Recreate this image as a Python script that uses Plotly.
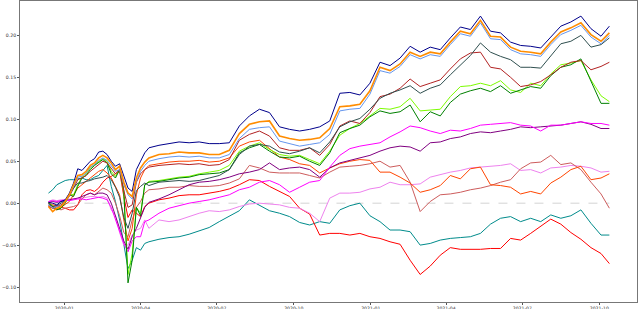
import plotly.graph_objects as go

dates = ["2019-12-13","2019-12-18","2019-12-23","2019-12-28","2020-01-02","2020-01-07","2020-01-12","2020-01-17",
         "2020-01-22","2020-01-27","2020-02-01","2020-02-06","2020-02-11","2020-02-16","2020-02-21","2020-02-26",
         "2020-03-02","2020-03-07","2020-03-12","2020-03-17","2020-03-22","2020-03-27","2020-04-01","2020-04-06",
         "2020-04-11","2020-04-23","2020-05-05","2020-05-17","2020-05-29","2020-06-10","2020-06-22","2020-07-04",
         "2020-07-16","2020-07-28","2020-08-09","2020-08-21","2020-09-02","2020-09-14","2020-09-26","2020-10-08",
         "2020-10-20","2020-11-01","2020-11-13","2020-11-25","2020-12-07","2020-12-19","2020-12-31","2021-01-12",
         "2021-01-24","2021-02-05","2021-02-17","2021-03-01","2021-03-13","2021-03-25","2021-04-06","2021-04-18",
         "2021-04-30","2021-05-12","2021-05-24","2021-06-05","2021-06-17","2021-06-29","2021-07-11","2021-07-23",
         "2021-08-04","2021-08-16","2021-08-28","2021-09-09","2021-09-21","2021-10-03","2021-10-13"]

navy = [0.001,0.000,-0.002,0.002,0.004,0.012,0.024,0.041,0.039,0.045,0.050,0.053,0.061,0.062,0.058,0.050,
        0.044,0.047,0.032,0.018,0.014,0.040,0.050,0.060,0.066,0.069,0.071,0.073,0.072,0.073,0.071,0.071,
        0.072,0.092,0.104,0.112,0.108,0.091,0.088,0.086,0.088,0.091,0.098,0.131,0.132,0.129,0.143,0.168,
        0.164,0.173,0.187,0.180,0.186,0.183,0.197,0.210,0.207,0.223,0.205,0.203,0.192,0.188,0.187,0.185,
        0.198,0.211,0.216,0.223,0.208,0.199,0.211]

orange = [-0.004,-0.010,-0.006,-0.004,0.002,0.010,0.022,0.033,0.034,0.038,0.045,0.048,0.054,0.057,0.054,0.048,
          0.040,0.044,0.025,0.012,0.008,0.030,0.042,0.049,0.054,0.058,0.059,0.061,0.060,0.060,0.058,0.058,
          0.063,0.083,0.094,0.097,0.098,0.080,0.077,0.075,0.076,0.078,0.089,0.115,0.116,0.118,0.134,0.162,
          0.158,0.166,0.180,0.175,0.180,0.178,0.192,0.205,0.202,0.218,0.199,0.198,0.186,0.181,0.180,0.178,
          0.192,0.204,0.209,0.215,0.201,0.193,0.203]

cornflower = [-0.002,-0.006,-0.004,-0.003,0.001,0.009,0.020,0.031,0.032,0.036,0.043,0.046,0.051,0.054,0.051,0.045,
              0.038,0.040,0.022,0.010,0.005,0.026,0.038,0.045,0.050,0.053,0.055,0.056,0.055,0.056,0.054,0.054,
              0.058,0.077,0.088,0.090,0.091,0.074,0.071,0.068,0.070,0.072,0.082,0.110,0.112,0.113,0.130,0.158,
              0.155,0.163,0.177,0.172,0.177,0.175,0.189,0.202,0.199,0.215,0.196,0.195,0.183,0.178,0.177,0.175,
              0.189,0.201,0.206,0.212,0.198,0.190,0.200]

slategray = [0.000,-0.004,-0.003,0.000,0.003,0.010,0.018,0.024,0.024,0.026,0.027,0.029,0.030,0.031,0.033,0.028,
             0.019,0.007,-0.017,-0.030,-0.012,0.015,0.020,0.024,0.021,0.025,0.026,0.027,0.026,0.027,0.030,0.033,
             0.040,0.058,0.068,0.070,0.068,0.061,0.059,0.062,0.066,0.060,0.073,0.091,0.097,0.101,0.112,0.125,
             0.131,0.135,0.140,0.131,0.137,0.141,0.153,0.165,0.176,0.191,0.180,0.175,0.171,0.162,0.162,0.161,
             0.175,0.190,0.193,0.200,0.186,0.189,0.197]

firebrick = [-0.003,-0.006,-0.004,-0.002,0.002,0.008,0.018,0.028,0.030,0.033,0.038,0.042,0.046,0.050,0.048,0.042,
             0.035,0.040,0.015,-0.005,-0.002,0.025,0.035,0.040,0.043,0.045,0.046,0.047,0.046,0.047,0.045,0.046,
             0.052,0.075,0.082,0.086,0.080,0.066,0.063,0.063,0.066,0.057,0.070,0.092,0.098,0.095,0.108,0.127,
             0.130,0.137,0.148,0.139,0.143,0.147,0.160,0.172,0.179,0.180,0.162,0.160,0.150,0.139,0.141,0.145,
             0.153,0.162,0.168,0.170,0.159,0.163,0.168]

lawngreen = [0.001,-0.003,-0.007,-0.005,0.001,0.011,0.010,0.022,0.031,0.035,0.042,0.046,0.049,0.053,0.050,0.038,
             0.032,0.040,0.012,-0.085,-0.060,-0.005,-0.012,0.022,0.026,0.027,0.029,0.031,0.032,0.035,0.037,0.039,
             0.045,0.062,0.068,0.072,0.064,0.058,0.056,0.057,0.052,0.047,0.062,0.081,0.089,0.095,0.104,0.113,
             0.112,0.115,0.125,0.110,0.111,0.112,0.127,0.139,0.140,0.143,0.140,0.146,0.135,0.132,0.143,0.140,
             0.154,0.165,0.167,0.170,0.147,0.128,0.121]

green = [0.000,-0.004,-0.008,-0.006,0.000,0.010,0.008,0.020,0.030,0.033,0.040,0.045,0.048,0.052,0.048,0.035,
         0.030,0.040,0.015,-0.095,-0.068,-0.005,-0.015,0.022,0.025,0.026,0.028,0.030,0.031,0.034,0.035,0.036,
         0.040,0.060,0.066,0.070,0.062,0.055,0.054,0.056,0.050,0.045,0.060,0.084,0.089,0.093,0.103,0.110,
         0.107,0.109,0.117,0.097,0.109,0.104,0.120,0.130,0.134,0.137,0.133,0.140,0.131,0.135,0.139,0.137,
         0.152,0.162,0.165,0.172,0.145,0.119,0.119]

magenta = [0.002,0.003,0.002,0.003,0.004,0.003,0.004,0.005,0.005,0.004,0.005,0.006,0.007,0.006,0.004,-0.005,
           -0.020,-0.035,-0.048,-0.058,-0.045,-0.040,-0.040,-0.022,-0.020,-0.012,-0.006,-0.003,0.000,0.002,0.004,0.007,
           0.010,0.016,0.019,0.025,0.027,0.022,0.013,0.019,0.025,0.027,0.043,0.057,0.065,0.068,0.070,0.072,
           0.079,0.085,0.092,0.090,0.086,0.083,0.087,0.086,0.089,0.093,0.094,0.095,0.096,0.093,0.092,0.086,
           0.093,0.093,0.095,0.097,0.095,0.095,0.093]

purple = [0.001,0.002,0.001,0.002,0.003,0.004,0.005,0.006,0.008,0.010,0.012,0.010,0.012,0.012,0.010,0.000,
          -0.015,-0.030,-0.045,-0.055,-0.040,-0.030,-0.018,-0.005,0.001,0.005,0.010,0.016,0.022,0.025,0.026,0.028,
          0.031,0.035,0.037,0.040,0.048,0.040,0.042,0.043,0.040,0.031,0.042,0.048,0.051,0.054,0.057,0.062,
          0.066,0.068,0.067,0.062,0.072,0.073,0.077,0.079,0.083,0.085,0.084,0.086,0.088,0.091,0.090,0.091,
          0.092,0.093,0.095,0.097,0.094,0.089,0.089]

violet = [0.002,0.004,0.003,0.004,0.004,0.005,0.005,0.006,0.006,0.007,0.008,0.008,0.007,0.008,0.006,-0.008,
          -0.015,-0.035,-0.050,-0.050,-0.038,-0.032,-0.030,-0.020,-0.030,-0.020,-0.022,-0.020,-0.016,-0.012,-0.009,-0.010,
          -0.008,-0.004,-0.001,0.000,-0.001,-0.002,-0.005,-0.006,-0.012,-0.022,0.006,0.012,0.012,0.013,0.017,0.019,
          0.025,0.022,0.022,0.023,0.031,0.034,0.037,0.039,0.042,0.043,0.044,0.045,0.047,0.039,0.040,0.036,
          0.042,0.043,0.045,0.044,0.042,0.037,0.038]

orangered = [-0.004,-0.006,-0.008,-0.005,-0.002,0.002,0.010,0.018,0.022,0.026,0.030,0.034,0.038,0.040,0.036,0.030,
             0.020,0.010,-0.020,-0.045,-0.030,0.010,0.030,0.040,0.045,0.047,0.049,0.050,0.050,0.051,0.049,0.050,
             0.054,0.068,0.073,0.075,0.065,0.055,0.052,0.047,0.045,0.036,0.042,0.047,0.050,0.052,0.051,0.037,
             0.037,0.031,0.024,0.013,0.016,0.021,0.033,0.029,0.041,0.043,0.022,0.021,0.019,0.011,0.014,0.011,
             0.024,0.031,0.040,0.044,0.028,0.030,0.035]

indianred = [-0.002,-0.004,-0.006,-0.008,-0.006,-0.005,-0.004,-0.002,0.005,0.010,0.012,0.010,0.014,0.018,0.016,0.012,
             0.000,-0.015,-0.035,-0.040,-0.020,-0.005,0.002,0.012,0.016,0.017,0.019,0.019,0.021,0.020,0.020,0.021,
             0.024,0.029,0.045,0.042,0.037,0.036,0.036,0.036,0.033,0.030,0.037,0.043,0.044,0.045,0.047,0.050,
             0.043,0.045,0.025,-0.010,0.002,0.010,0.011,0.013,0.016,0.018,0.021,0.025,0.028,0.041,0.048,0.049,
             0.057,0.046,0.048,0.040,0.025,0.011,-0.006]

darkcyan = [0.012,0.016,0.022,0.025,0.027,0.028,0.028,0.029,0.030,0.028,0.028,0.031,0.033,0.039,0.045,0.020,
            0.002,-0.020,-0.050,-0.078,-0.068,-0.053,-0.056,-0.048,-0.046,-0.043,-0.041,-0.040,-0.037,-0.033,-0.029,-0.022,
            -0.016,-0.009,0.004,-0.003,-0.009,-0.012,-0.016,-0.023,-0.026,-0.022,-0.024,-0.008,-0.003,0.000,-0.015,-0.022,
            -0.032,-0.032,-0.034,-0.050,-0.048,-0.044,-0.042,-0.041,-0.040,-0.036,-0.025,-0.018,-0.016,-0.022,-0.018,-0.022,
            -0.014,-0.018,-0.015,-0.008,-0.024,-0.038,-0.038]

red = [0.000,-0.002,-0.003,-0.005,-0.006,-0.008,-0.008,-0.002,0.010,0.015,0.016,0.014,0.018,0.025,0.030,0.032,
       0.035,0.038,0.008,-0.017,-0.008,-0.012,-0.016,-0.004,0.000,0.004,0.006,0.009,0.010,0.010,0.012,0.014,
       0.017,0.022,0.028,0.027,0.020,0.014,0.008,-0.006,-0.013,-0.038,-0.036,-0.036,-0.038,-0.036,-0.040,-0.042,
       -0.046,-0.049,-0.068,-0.085,-0.075,-0.062,-0.053,-0.055,-0.055,-0.055,-0.054,-0.054,-0.042,-0.044,-0.036,-0.028,
       -0.019,-0.025,-0.035,-0.043,-0.053,-0.060,-0.072]

zero_level = [0.0, 0.0]

series = [
    ("darkcyan", "#008B8B", darkcyan, 1),
    ("red", "#FF0000", red, 1),
    ("violet", "#EE82EE", violet, 1),
    ("indianred", "#CD5C5C", indianred, 1),
    ("orangered", "#FF4500", orangered, 1),
    ("purple", "#800080", purple, 1),
    ("magenta", "#FF00FF", magenta, 1),
    ("lawngreen", "#7CFC00", lawngreen, 1),
    ("green", "#008000", green, 1),
    ("firebrick", "#B22222", firebrick, 1),
    ("darkslategray", "#2F4F4F", slategray, 1),
    ("darkblue", "#00008B", navy, 1),
    ("cornflowerblue", "#6495ED", cornflower, 1),
    ("darkorange", "#FF8C00", orange, 1.6),
]

fig = go.Figure()
fig.add_trace(go.Scatter(x=[dates[0], dates[-1]], y=zero_level, mode="lines",
                         line=dict(color="#d3d3d3", dash="dash", width=1), hoverinfo="skip"))
for name, color, vals, w in series:
    fig.add_trace(go.Scatter(x=dates, y=vals, mode="lines", name=name,
                             line=dict(color=color, width=w)))

font = dict(family="DejaVu Sans", size=4.6, color="#333333")
fig.update_layout(
    width=640, height=309,
    margin=dict(l=20, r=3, t=1, b=7, autoexpand=False),
    showlegend=False,
    plot_bgcolor="white", paper_bgcolor="white",
    font=font,
    xaxis=dict(type="date", range=["2019-11-09", "2021-11-15"], tickformat="%Y-%m",
               dtick="M3", tick0="2020-01-01", ticks="outside", ticklen=2, tickwidth=0.6,
               tickcolor="#555555", showline=True, mirror=True, linecolor="#777777", linewidth=1,
               showgrid=False, zeroline=False, tickfont=font, automargin=False,
               ticklabelstandoff=-1),
    yaxis=dict(range=[-0.1178, 0.2410], tickvals=[-0.10, -0.05, 0.0, 0.05, 0.10, 0.15, 0.20],
               tickformat=".2f", ticks="outside", ticklen=2, tickwidth=0.6, tickcolor="#555555",
               showline=True, mirror=True, linecolor="#777777", linewidth=1,
               showgrid=False, zeroline=False, tickfont=font, automargin=False),
)

fig.write_html("out.html", config={"displayModeBar": False},
               post_script="document.body.style.margin='0px';document.body.style.overflow='hidden';")
